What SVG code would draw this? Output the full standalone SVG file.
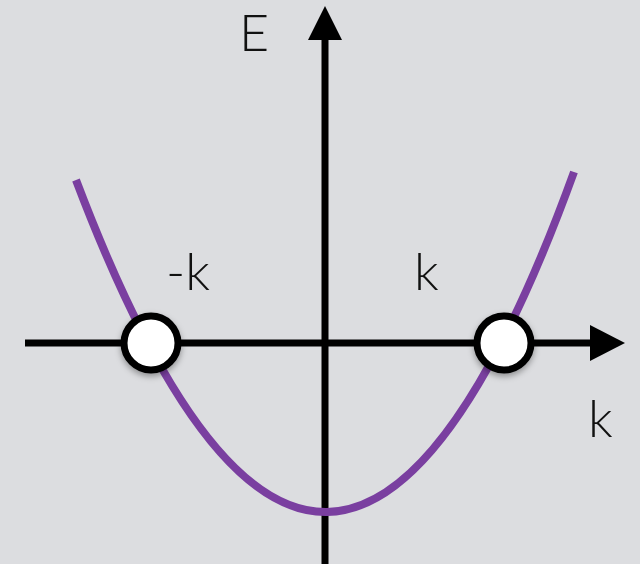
<svg xmlns="http://www.w3.org/2000/svg" width="640" height="564" viewBox="0 0 640 564">
<style>
.lbl{font-family:"Lato","Open Sans","Liberation Sans",sans-serif;font-weight:300;font-size:52px;fill:#111}
.axis{stroke:#000;stroke-width:7;fill:none}
.pt{fill:#fff;stroke:#000;stroke-width:7}
</style>
<defs>
<filter id="sh" x="-50%" y="-50%" width="200%" height="200%">
<feDropShadow dx="0" dy="3" stdDeviation="3" flood-color="#000" flood-opacity="0.35"/>
</filter>
</defs>
<rect width="640" height="564" fill="#dcdde0"/>
<g id="connectors">
<line class="axis" x1="25" y1="343" x2="595" y2="343"/>
<polygon points="590,325 625,343 590,361" fill="#000"/>
<line class="axis" x1="325" y1="564" x2="325" y2="36"/>
<polygon points="308,40 325,6 342,40" fill="#000"/>
<path d="M76,180 Q329,848 574,172" fill="none" stroke="#7a3fa0" stroke-width="8"/>
</g>
<g id="point-left"><circle class="pt" cx="151" cy="343" r="27" filter="url(#sh)"/></g>
<g id="point-right"><circle class="pt" cx="504" cy="343" r="27" filter="url(#sh)"/></g>
<g id="label-E"><text class="lbl" x="239" y="51">E</text></g>
<g id="label-negk"><text class="lbl" x="166" y="290">-k</text></g>
<g id="label-k"><text class="lbl" x="414" y="290">k</text></g>
<g id="label-kaxis"><text class="lbl" x="588" y="437">k</text></g>
</svg>
